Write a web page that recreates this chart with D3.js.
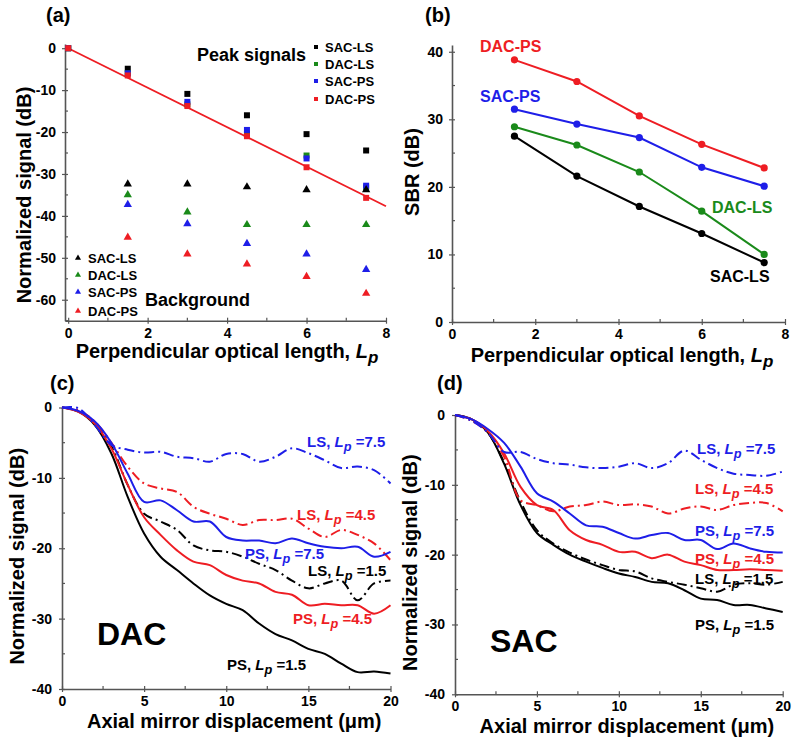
<!DOCTYPE html>
<html><head><meta charset="utf-8">
<script src="https://cdn.jsdelivr.net/npm/d3@7"></script>
<style>
body{margin:0;background:#fff;}
svg text{font-family:Arial,"Liberation Sans",sans-serif;font-weight:bold;}
</style></head><body>
<svg id="c" width="800" height="749"></svg>
<script>
// ---------- DATA ----------
// Panel (a): peak signals (squares) at Lp positions
const peakX = [0, 1.5, 3, 4.5, 6, 7.5];
const peakSACLS = [0, -4.9, -10.9, -16.0, -20.5, -24.4];
const peakDACLS = [0, -6.0, -13.4, -20.4, -25.6, -33.2];
const peakSACPS = [0, -6.0, -12.8, -19.5, -26.3, -32.8];
const peakDACPS = [0, -6.5, -13.8, -21.0, -28.4, -35.7];
// Panel (a): background (triangles)
const bgX = [1.5, 3, 4.5, 6, 7.5];
const bgSACLS = [-32.4, -32.4, -33.1, -33.8, -33.8];
const bgDACLS = [-35.0, -39.1, -42.1, -42.1, -42.1];
const bgSACPS = [-37.3, -41.9, -46.6, -49.1, -52.8];
const bgDACPS = [-45.1, -49.1, -51.5, -54.5, -58.5];
// Panel (a): linear fit (red line)
const fitX = [0, 8];
const fitY = [0, -37.7];
// Panel (b): SBR
const sbrX = [1.5, 3, 4.5, 6, 7.5];
const sbrDACPS = [38.8, 35.6, 30.5, 26.3, 22.8];
const sbrSACPS = [31.5, 29.3, 27.3, 22.9, 20.1];
const sbrDACLS = [28.9, 26.2, 22.2, 16.4, 10.0];
const sbrSACLS = [27.5, 21.6, 17.1, 13.1, 8.8];
// Panels (c),(d): axial mirror displacement (um)
const disp = [0,1,2,3,4,5,6,7,8,9,10,11,12,13,14,15,16,17,18,19,20];
// (c) DAC
const dacLS75 = [0,-0.1,-2.5,-5.3,-6.0,-6.4,-6.3,-7.0,-7.2,-7.7,-6.6,-6.6,-7.7,-7.0,-5.8,-6.5,-7.5,-8.6,-8.4,-8.9,-10.8];
const dacLS45 = [0,-0.4,-2.0,-5.0,-8.4,-10.8,-11.5,-12.0,-14.1,-15.1,-15.8,-16.7,-16.0,-16.0,-15.8,-17.2,-18.4,-17.4,-18.1,-19.3,-21.7];
const dacPS75 = [0,-0.5,-2.0,-5.0,-9.4,-13.4,-13.2,-14.6,-16.2,-16.2,-18.4,-18.9,-18.9,-19.3,-18.6,-19.3,-19.8,-20.0,-19.8,-21.2,-20.5];
const dacLS15 = [0,-0.5,-2.3,-5.5,-11.0,-15.1,-16.2,-17.4,-19.6,-20.3,-20.5,-21.2,-22.2,-23.1,-24.6,-25.7,-25.0,-24.6,-27.4,-25.0,-24.6];
const dacPS45 = [0,-0.6,-2.3,-5.8,-11.0,-15.6,-18.1,-20.3,-21.9,-22.4,-23.8,-24.6,-25.0,-26.2,-26.6,-28.1,-27.9,-28.1,-28.1,-29.3,-28.1];
const dacPS15 = [0,-0.6,-2.5,-6.5,-12.7,-17.9,-21.2,-23.1,-25.0,-26.7,-27.9,-28.8,-30.7,-32.2,-33.1,-34.3,-35.0,-36.4,-37.6,-37.5,-37.8];
// (d) SAC
const sacLS75 = [0,-0.8,-2.5,-5.3,-5.3,-6.3,-6.9,-7.1,-7.5,-7.6,-7.4,-6.9,-7.6,-6.9,-5.1,-6.4,-7.6,-8.4,-8.6,-8.7,-8.1];
const sacLS45 = [0,-0.8,-2.5,-6.0,-12.2,-12.9,-13.8,-13.1,-12.9,-12.4,-12.9,-12.8,-13.1,-14.1,-13.4,-13.1,-13.6,-12.9,-12.6,-12.6,-13.8];
const sacPS75 = [0,-0.6,-2.0,-4.0,-7.4,-11.2,-12.4,-14.1,-15.8,-16.0,-16.9,-17.7,-17.2,-16.9,-17.9,-17.9,-19.2,-18.4,-19.1,-19.6,-19.7];
const sacPS45 = [0,-0.6,-2.3,-5.5,-10.3,-12.9,-13.6,-16.5,-17.9,-18.6,-19.6,-19.6,-20.5,-20.0,-21.0,-21.5,-22.2,-22.2,-22.1,-22.2,-22.3];
const sacLS15 = [0,-0.6,-2.5,-6.8,-12.4,-16.5,-18.4,-19.7,-20.7,-21.5,-22.2,-22.4,-23.4,-23.9,-24.3,-24.8,-25.3,-24.3,-24.1,-24.3,-23.9];
const sacPS15 = [0,-0.6,-2.5,-7.0,-12.9,-16.9,-18.6,-20.0,-21.0,-21.9,-22.7,-23.2,-23.9,-24.1,-25.1,-26.3,-26.5,-27.2,-27.2,-27.7,-28.2];
// tick values
const ticksA_x = [0,2,4,6,8], ticksA_y = [0,-10,-20,-30,-40,-50,-60];
const ticksB_y = [0,10,20,30,40];
const ticksCD_x = [0,5,10,15,20], ticksCD_y = [0,-10,-20,-30,-40];

// ---------- STYLE ----------
const RED = "#ee1d23", BLUE = "#1e1ee8", GREEN = "#1a8a1a", BLACK = "#000";
const AX = "#555";
const DASHDOT = "10,4,2,4";
const svg = d3.select("#c");

function drawAxes(g, x, y, xt, yt, xminor, yminor, xPad, yPad) {
  const xa = d3.axisBottom(x).tickValues(xt).tickSize(3).tickPadding(xPad).tickSizeOuter(0).tickFormat(d3.format("d"));
  const ya = d3.axisLeft(y).tickValues(yt).tickSize(3).tickPadding(yPad).tickSizeOuter(0).tickFormat(d => d3.format("d")(d).replace("\u2212","-"));
  const gx = g.append("g").attr("transform", `translate(0,${y.range()[0]})`).call(xa);
  const gy = g.append("g").attr("transform", `translate(${x.range()[0]},0)`).call(ya);
  [gx, gy].forEach(a => {
    a.select(".domain").attr("stroke", AX).attr("stroke-width", 1.6);
    a.selectAll(".tick line").attr("stroke", AX).attr("stroke-width", 1.2);
    a.selectAll(".tick text").attr("fill", "#000").attr("font-size", 14).attr("font-family", "Arial, 'Liberation Sans', sans-serif").attr("font-weight", "bold");
  });
  gx.selectAll(".tick line").attr("y1", -3);
  gy.selectAll(".tick line").attr("x1", 3);
  // minor ticks (inward)
  g.append("g").selectAll("line").data(xminor).join("line")
    .attr("x1", d => x(d)).attr("x2", d => x(d))
    .attr("y1", y.range()[0]).attr("y2", y.range()[0] - 3).attr("stroke", AX).attr("stroke-width", 1.2);
  g.append("g").selectAll("line").data(yminor).join("line")
    .attr("y1", d => y(d)).attr("y2", d => y(d))
    .attr("x1", x.range()[0]).attr("x2", x.range()[0] + 3).attr("stroke", AX).attr("stroke-width", 1.2);
}

function lpLabel(g, xPos, yPos, prefix, val, color, size, anchor) {
  const t = g.append("text").attr("x", xPos).attr("y", yPos).attr("fill", color)
    .attr("font-size", size).attr("text-anchor", anchor || "start");
  t.append("tspan").text(prefix);
  t.append("tspan").attr("font-style", "italic").text("L");
  t.append("tspan").attr("font-style", "italic").attr("font-size", size * 0.85).attr("dy", size * 0.25).text("p");
  if (val !== null) t.append("tspan").attr("dy", -size * 0.25).text(" =" + val);
  return t;
}

function titleY(g, cx, cy, txt) {
  g.append("text").attr("transform", `translate(${cx},${cy}) rotate(-90)`)
    .attr("text-anchor", "middle").attr("font-size", 20).text(txt);
}

// ---------- PANEL (a) ----------
{
  const g = svg.append("g");
  const x = d3.scaleLinear().domain([-0.08, 8]).range([65, 386]);
  const y = d3.scaleLinear().domain([-65, 1]).range([320.7, 44]);
  drawAxes(g, x, y, ticksA_x, ticksA_y, [1,3,5,7], [-5,-15,-25,-35,-45,-55,-65], 4, 6);
  g.append("text").attr("x", 46).attr("y", 22).attr("font-size", 20).text("(a)");
  titleY(g, 31, 195, "Normalized signal (dB)");
  lpLabel(g, 227, 358, "Perpendicular optical length, ", null, "#000", 20, "middle");
  // fit line
  g.append("path").datum(d3.zip(fitX, fitY))
    .attr("d", d3.line().x(d => x(d[0])).y(d => y(d[1])))
    .attr("stroke", RED).attr("stroke-width", 1.8).attr("fill", "none");
  const peaks = [[peakSACLS, BLACK], [peakDACLS, GREEN], [peakSACPS, BLUE], [peakDACPS, RED]];
  const bgs = [[bgSACLS, BLACK], [bgDACLS, GREEN], [bgSACPS, BLUE], [bgDACPS, RED]];
  const sq = d3.symbol().type(d3.symbolSquare).size(36);
  const tri = d3.symbol().type(d3.symbolTriangle).size(30);
  peaks.forEach(([vals, col]) => {
    g.append("g").selectAll("path").data(d3.zip(peakX, vals)).join("path")
      .attr("transform", d => `translate(${x(d[0])},${y(d[1])})`).attr("d", sq).attr("fill", col);
  });
  bgs.forEach(([vals, col]) => {
    g.append("g").selectAll("path").data(d3.zip(bgX, vals)).join("path")
      .attr("transform", d => `translate(${x(d[0])},${y(d[1])})`).attr("d", tri).attr("fill", col);
  });
  // legends
  const names = ["SAC-LS", "DAC-LS", "SAC-PS", "DAC-PS"];
  const cols = [BLACK, GREEN, BLUE, RED];
  g.append("text").attr("x", 197).attr("y", 61).attr("font-size", 18).text("Peak signals");
  const ly1 = [47, 64, 81, 99];
  names.forEach((n, i) => {
    g.append("path").attr("transform", `translate(316,${ly1[i]})`).attr("d", d3.symbol().type(d3.symbolSquare).size(16)).attr("fill", cols[i]);
    g.append("text").attr("x", 325).attr("y", ly1[i] + 5).attr("font-size", 13).text(n);
  });
  const ly2 = [258, 275, 292, 311];
  names.forEach((n, i) => {
    g.append("path").attr("transform", `translate(78,${ly2[i]})`).attr("d", d3.symbol().type(d3.symbolTriangle).size(16)).attr("fill", cols[i]);
    g.append("text").attr("x", 88).attr("y", ly2[i] + 5).attr("font-size", 13).text(n);
  });
  g.append("text").attr("x", 145).attr("y", 306).attr("font-size", 18).text("Background");
}

// ---------- PANEL (b) ----------
{
  const g = svg.append("g");
  const x = d3.scaleLinear().domain([0, 8]).range([452, 785]);
  const y = d3.scaleLinear().domain([0, 41]).range([322, 45]);
  drawAxes(g, x, y, ticksA_x, ticksB_y, [1,3,5,7], [5,15,25,35], 4, 6);
  g.append("text").attr("x", 425).attr("y", 22).attr("font-size", 20).text("(b)");
  titleY(g, 419, 172, "SBR (dB)");
  lpLabel(g, 622, 362, "Perpendicular optical length, ", null, "#000", 20, "middle");
  const series = [[sbrSACLS, BLACK], [sbrDACLS, GREEN], [sbrSACPS, BLUE], [sbrDACPS, RED]];
  series.forEach(([vals, col]) => {
    const pts = d3.zip(sbrX, vals);
    g.append("path").datum(pts).attr("d", d3.line().x(d => x(d[0])).y(d => y(d[1])))
      .attr("stroke", col).attr("stroke-width", 2).attr("fill", "none");
    g.append("g").selectAll("circle").data(pts).join("circle")
      .attr("cx", d => x(d[0])).attr("cy", d => y(d[1])).attr("r", 3.6).attr("fill", col);
  });
  g.append("text").attr("x", 480).attr("y", 52).attr("font-size", 16).attr("fill", RED).text("DAC-PS");
  g.append("text").attr("x", 480).attr("y", 102).attr("font-size", 16).attr("fill", BLUE).text("SAC-PS");
  g.append("text").attr("x", 712).attr("y", 213).attr("font-size", 16).attr("fill", GREEN).text("DAC-LS");
  g.append("text").attr("x", 710).attr("y", 282).attr("font-size", 16).attr("fill", BLACK).text("SAC-LS");
}

// ---------- PANELS (c),(d) ----------
function curvePanel(x, y, tag, tagX, titleX, big, bigX, bigY, xTitleY, curves, labels) {
  const g = svg.append("g");
  drawAxes(g, x, y, ticksCD_x, ticksCD_y, [2.5,7.5,12.5,17.5], [-5,-15,-25,-35], 4, 7);
  g.append("text").attr("x", tagX).attr("y", 390).attr("font-size", 20).text(tag);
  titleY(g, titleX, (y.range()[0] + y.range()[1]) / 2 + 8, "Normalized signal (dB)");
  g.append("text").attr("x", (x.range()[0] + x.range()[1]) / 2 + 8).attr("y", xTitleY)
    .attr("text-anchor", "middle").attr("font-size", 20).text("Axial mirror displacement (\u03bcm)");
  g.append("text").attr("x", bigX).attr("y", bigY).attr("font-size", 32).text(big);
  const line = d3.line().x(d => x(d[0])).y(d => y(d[1])).curve(d3.curveCatmullRom);
  curves.forEach(([vals, col, dash]) => {
    g.append("path").datum(d3.zip(disp, vals)).attr("d", line)
      .attr("stroke", col).attr("stroke-width", 2).attr("fill", "none")
      .attr("stroke-dasharray", dash ? DASHDOT : null);
  });
  labels.forEach(([lx, ly, pre, v, col]) => lpLabel(g, lx, ly, pre, v, col, 15));
}

{
  const x = d3.scaleLinear().domain([0, 20]).range([62, 390.5]);
  const y = d3.scaleLinear().domain([-40, 0]).range([689, 407.5]);
  curvePanel(x, y, "(c)", 50, 24, "DAC", 97, 645, 728,
    [[dacPS15, BLACK, false], [dacLS15, BLACK, true], [dacPS45, RED, false], [dacLS45, RED, true], [dacPS75, BLUE, false], [dacLS75, BLUE, true]],
    [[307, 447, "LS, ", "7.5", BLUE], [297, 520, "LS, ", "4.5", RED], [245, 559, "PS, ", "7.5", BLUE],
     [308, 576, "LS, ", "1.5", BLACK], [293, 624, "PS, ", "4.5", RED], [227, 670, "PS, ", "1.5", BLACK]]);
}
{
  const x = d3.scaleLinear().domain([0, 20]).range([455, 782.7]);
  const y = d3.scaleLinear().domain([-40, 0]).range([694.3, 415]);
  curvePanel(x, y, "(d)", 437, 417, "SAC", 490, 652, 733,
    [[sacPS15, BLACK, false], [sacLS15, BLACK, true], [sacPS45, RED, false], [sacLS45, RED, true], [sacPS75, BLUE, false], [sacLS75, BLUE, true]],
    [[697, 454, "LS, ", "7.5", BLUE], [695, 494, "LS, ", "4.5", RED], [695, 536, "PS, ", "7.5", BLUE],
     [695, 564, "PS, ", "4.5", RED], [695, 584, "LS, ", "1.5", BLACK], [695, 630, "PS, ", "1.5", BLACK]]);
}
</script></body></html>
